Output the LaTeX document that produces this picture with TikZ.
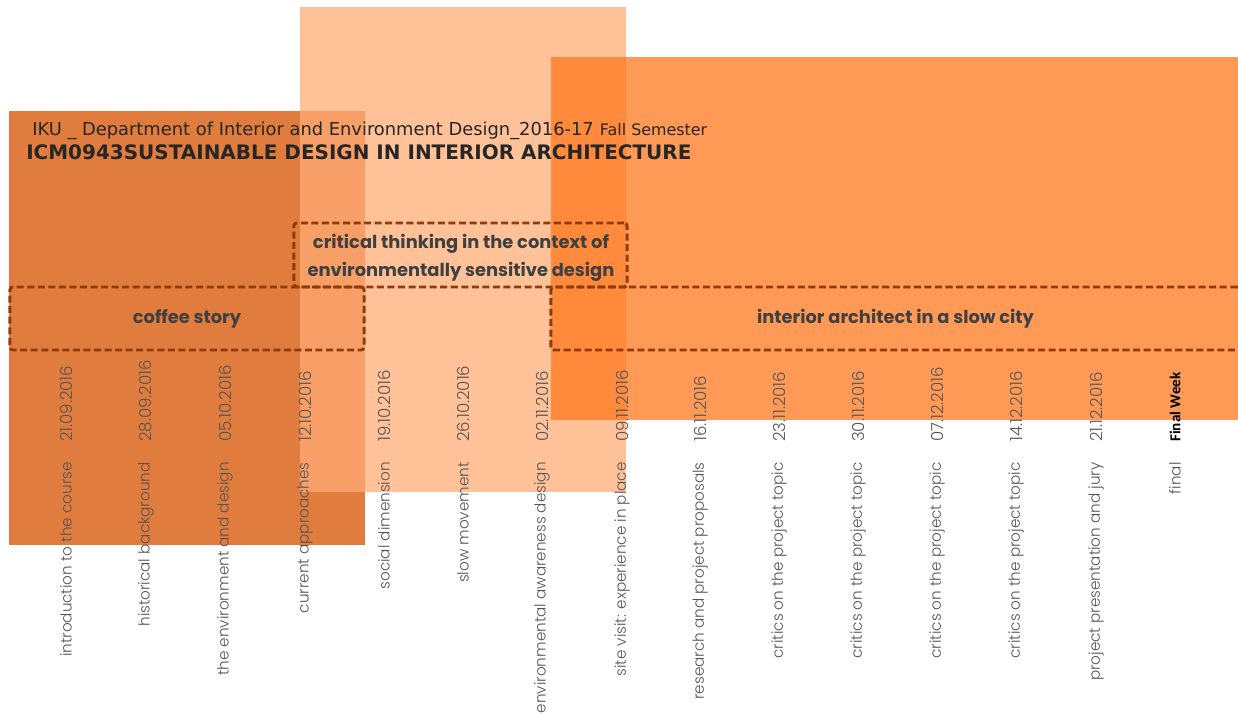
\documentclass[tikz,border=0pt]{standalone}
\usepackage{fontspec}
\setmainfont{DejaVu Sans}
\newfontfamily\gothic{Poppins}
\newfontfamily\gothiclight{Poppins Light}
\newfontfamily\calib{Carlito}
\usetikzlibrary{positioning}
\definecolor{rust}{RGB}{224,124,62}
\definecolor{peach}{RGB}{255,172,117}
\definecolor{tangerine}{RGB}{255,120,30}
\definecolor{bark}{RGB}{145,58,12}
\definecolor{ink}{RGB}{64,64,64}
\definecolor{pencil}{RGB}{85,85,85}
\tikzset{
    patch/.style =  {fill=#1,
                    draw=none},
    band/.style =   {rectangle,
                    rounded corners=2pt,
                    draw=bark,
                    line width=2.1pt,
                    dash pattern=on 5pt off 2.5pt,
                    text=ink,
                    align=center,
                    inner sep=0pt,
                    font=\gothic\bfseries\fontsize{12.7}{19.5}\selectfont},
    head/.style =   {anchor=base west,
                    inner sep=0pt,
                    text=black!85},
    date/.style =   {rotate=90,
                    anchor=west,
                    inner sep=0pt,
                    text=pencil,
                    font=\gothiclight\fontsize{11.8}{13}\selectfont},
    topic/.style =  {rotate=90,
                    anchor=east,
                    inner sep=0pt,
                    text=pencil,
                    font=\gothiclight\fontsize{10.8}{13}\selectfont}}

\begin{document}
\begin{tikzpicture}[x=0.025cm,y=-0.025cm]
    \clip (0,0) rectangle (1238,713);
    % colour blocks
    \path[patch=rust]                       (9,111)   rectangle (365,545);
    \path[patch=peach,fill opacity=.75]     (300,7)   rectangle (626,492);
    \path[patch=tangerine,fill opacity=.75] (551,57)  rectangle (1238,420);
    % heading
    \node[head,font=\fontsize{12.7}{14}\selectfont]         (H1) at (32,135)  {IKU \_ Department of Interior and Environment Design\_2016-17};
    \node[head,font=\fontsize{11.3}{13}\selectfont]         (H2) at ([xshift=4pt]H1.base east) {Fall Semester};
    \node[head,font=\bfseries\fontsize{14.2}{16}\selectfont] (H3) at (26,159)  {ICM0943SUSTAINABLE DESIGN IN INTERIOR ARCHITECTURE};
    % themes
    \node[band,minimum width=8.325cm,minimum height=1.6cm]   (CT) at (460.5,255) {};
    \node[font=\gothic\bfseries\fontsize{12.7}{19.5}\selectfont,text=ink,align=center] (CTt) at (461,258) {critical thinking in the context of\\environmentally sensitive design};
    \node[band,minimum width=8.85cm,minimum height=1.575cm]  (CS) at (187,318.5) {coffee story};
    \node[band,minimum width=17.225cm,minimum height=1.575cm] (IA) at (895.5,318.5) {interior architect in a slow city};
    % weeks
    \node[date]  (D1)  at (66,442)   {21.09.2016};
    \node[topic] (T1)  at (66,462)   {introduction to the course};
    \node[date]  (D2)  at (146,442)  {28.09.2016};
    \node[topic] (T2)  at (146,462)  {historical background};
    \node[date]  (D3)  at (225,442)  {05.10.2016};
    \node[topic] (T3)  at (225,462)  {the environment and design};
    \node[date]  (D4)  at (305,442)  {12.10.2016};
    \node[topic] (T4)  at (305,462)  {current approaches};
    \node[date]  (D5)  at (384,442)  {19.10.2016};
    \node[topic] (T5)  at (384,462)  {social dimension};
    \node[date]  (D6)  at (463,442)  {26.10.2016};
    \node[topic] (T6)  at (463,462)  {slow movement};
    \node[date]  (D7)  at (542,442)  {02.11.2016};
    \node[topic] (T7)  at (542,462)  {environmental awareness design};
    \node[date]  (D8)  at (622,442)  {09.11.2016};
    \node[topic] (T8)  at (622,462)  {site visit: experience in place};
    \node[date]  (D9)  at (700,442)  {16.11.2016};
    \node[topic] (T9)  at (700,462)  {research and project proposals};
    \node[date]  (D10) at (779,442)  {23.11.2016};
    \node[topic] (T10) at (779,462)  {critics on the project topic};
    \node[date]  (D11) at (858,442)  {30.11.2016};
    \node[topic] (T11) at (858,462)  {critics on the project topic};
    \node[date]  (D12) at (937,442)  {07.12.2016};
    \node[topic] (T12) at (937,462)  {critics on the project topic};
    \node[date]  (D13) at (1016,442) {14.12.2016};
    \node[topic] (T13) at (1016,462) {critics on the project topic};
    \node[date]  (D14) at (1096,442) {21.12.2016};
    \node[topic] (T14) at (1096,462) {project presentation and jury};
    \node[date,text=black,font=\calib\bfseries\fontsize{10.8}{12}\selectfont] (D15) at (1175,442) {Final Week};
    \node[topic] (T15) at (1175,462) {final};
\end{tikzpicture}
\end{document}
